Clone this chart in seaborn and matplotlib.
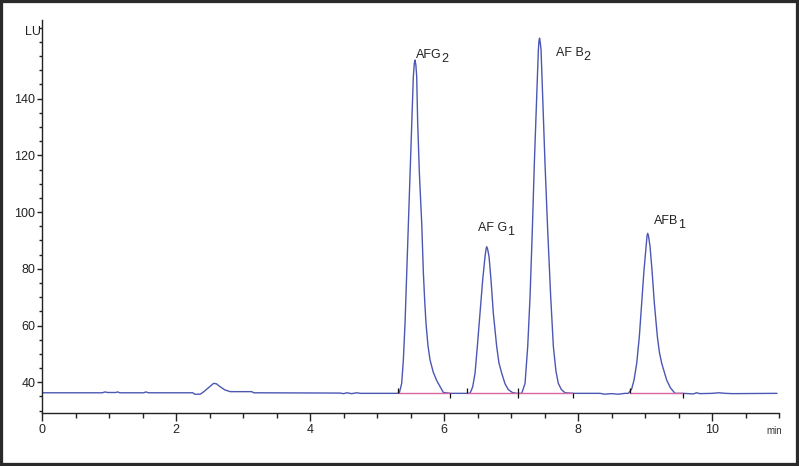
import matplotlib
matplotlib.use("Agg")
import matplotlib.pyplot as plt
from matplotlib.patches import Rectangle
from matplotlib.ticker import MultipleLocator
import pandas as pd
import seaborn as sns

# fluorescence trace (time in min, signal in LU)
time_min = [
    0.00, 0.90, 0.94, 0.98, 1.10, 1.13, 1.16, 1.52, 1.55, 1.59, 2.25, 2.28, 2.36, 2.41,
    2.48, 2.56, 2.60, 2.66, 2.73, 2.81, 3.13, 3.16, 4.45, 4.50, 4.55, 4.62, 4.70, 4.75, 5.30,
    5.333, 5.368, 5.393, 5.418, 5.443, 5.468, 5.493, 5.517, 5.542, 5.556, 5.567, 5.580,
    5.592, 5.607, 5.632, 5.667, 5.692, 5.712, 5.731, 5.760, 5.791, 5.84, 5.891, 5.99,
    6.10, 6.30,
    6.388, 6.428, 6.463, 6.497, 6.537, 6.577, 6.612, 6.627, 6.637, 6.650,
    6.672, 6.701, 6.736, 6.786, 6.820, 6.861, 6.91, 6.960, 7.02, 7.085,
    7.160, 7.209, 7.249, 7.284, 7.318, 7.348, 7.383, 7.408, 7.418, 7.426, 7.436,
    7.448, 7.473, 7.507, 7.547, 7.592, 7.632, 7.670, 7.706, 7.75, 7.806,
    7.95, 8.33, 8.40, 8.50, 8.60, 8.70,
    8.751, 8.800, 8.836, 8.876, 8.915, 8.950, 8.985, 9.015, 9.030, 9.040, 9.052,
    9.075, 9.104, 9.139, 9.184, 9.215, 9.249, 9.323, 9.38, 9.448,
    9.57, 9.72, 9.77, 9.82, 10.00, 10.10, 10.20, 10.30, 10.97,
]
signal_lu = [
    36.3, 36.3, 36.6, 36.4, 36.4, 36.6, 36.3, 36.3, 36.6, 36.3, 36.3, 35.8, 35.8, 36.6,
    38.0, 39.6, 39.5, 38.4, 37.3, 36.7, 36.7, 36.3, 36.2, 36.0, 36.3, 36.0, 36.3, 36.1, 36.1,
    36.3, 39.6, 47.9, 60.8, 78.4, 96.1, 113.7, 131.3, 147.8, 152.3, 153.6, 151.8,
    147.8, 131.3, 113.7, 96.1, 78.4, 68.5, 60.8, 53.0, 47.9, 43.5, 40.6, 36.4,
    36.1, 36.1,
    36.1, 38.4, 43.2, 52.6, 64.3, 76.1, 84.3, 87.0, 87.8, 87.0,
    84.3, 76.1, 64.3, 52.6, 46.8, 43.2, 39.5, 37.4, 36.4, 36.1,
    36.1, 39.6, 52.6, 70.2, 93.7, 117.2, 140.7, 157.2, 160.5, 161.3, 159.8,
    157.2, 140.7, 117.2, 93.7, 70.2, 52.6, 44.0, 39.6, 37.5, 36.3,
    36.1, 36.1, 35.8, 36.0, 35.8, 36.1,
    36.1, 37.6, 40.8, 46.7, 56.1, 67.9, 79.6, 87.8, 91.6, 92.5, 91.6,
    87.8, 79.6, 67.9, 56.1, 50.5, 46.7, 40.8, 38.0, 36.1,
    36.1, 35.9, 36.3, 36.0, 36.1, 36.3, 36.1, 36.0, 36.1,
]

# integration baselines
int_start = [5.32, 6.35, 7.11, 8.77]
int_end = [6.09, 7.11, 7.93, 9.57]
base_level = 36.1

# peak labels (name + subscript digit)
peak_names = ["AFG", "AF G", "AF B", "AFB"]
peak_subs = ["2", "1", "2", "1"]
label_x = [5.58, 6.51, 7.67, 9.13]
label_y = [154.2, 93.4, 155.1, 95.7]

trace = pd.DataFrame({"time": time_min, "signal": signal_lu})

sns.set_style("ticks")
plt.rcParams["font.family"] = ["Liberation Sans", "DejaVu Sans"]

fig = plt.figure(figsize=(7.99, 4.66), dpi=100)
ax = fig.add_axes([0.0526, 0.1131, 0.9224, 0.844])

sns.lineplot(data=trace, x="time", y="signal", ax=ax, color="#4b57b3",
             lw=1.0, estimator=None, sort=False)

pink = "#d9669f"
for s, e in zip(int_start, int_end):
    ax.plot([s, e], [base_level, base_level], color=pink, lw=1.0)
ax.vlines(int_start, base_level, base_level + 1.8, color="#111", lw=0.9)
ax.vlines(int_end, base_level - 1.8, base_level, color="#111", lw=0.9)

for name, sub, x, y in zip(peak_names, peak_subs, label_x, label_y):
    t = ax.text(x, y, name, fontsize=9, ha="left", va="baseline", color="#222")
    ax.annotate(sub, xy=(1, 0), xycoords=t, xytext=(0.0, -3.0),
                textcoords="offset points", ha="left", va="bottom",
                fontsize=9, color="#222")

ax.set_xlim(0, 11)
ax.set_ylim(29.07, 167.7)
ax.xaxis.set_major_locator(MultipleLocator(2))
ax.xaxis.set_minor_locator(MultipleLocator(0.5))
ax.yaxis.set_major_locator(MultipleLocator(20))
ax.yaxis.set_minor_locator(MultipleLocator(5))
ax.set_yticks([40, 60, 80, 100, 120, 140])
ax.tick_params(axis="x", which="major", length=6, width=1, pad=2, labelsize=9, colors="#222")
ax.tick_params(axis="x", which="minor", length=3.3, width=1, colors="#222")
ax.tick_params(axis="y", which="major", length=3.8, width=1, pad=1, labelsize=9, colors="#222")
ax.tick_params(axis="y", which="minor", length=2.2, width=1, colors="#222")
ax.set_xlabel("")
ax.set_ylabel("")
sns.despine(ax=ax)
for sp in ("left", "bottom"):
    ax.spines[sp].set_linewidth(1.0)
    ax.spines[sp].set_color("#222")

ax.annotate("min", xy=(1, 0), xycoords="axes fraction", xytext=(-3.6, -12.7),
            textcoords="offset points", ha="center", va="center", fontsize=7, color="#333")
ax.annotate("LU", xy=(0, 1), xycoords="axes fraction", xytext=(-6.5, -8.6),
            textcoords="offset points", ha="center", va="center", fontsize=9, color="#222")

fig.patches.append(Rectangle((0, 0), 1, 1, transform=fig.transFigure, fill=False,
                             ec="#2a2a2a", lw=4.5, zorder=10))

fig.savefig("out.png", dpi=100)
